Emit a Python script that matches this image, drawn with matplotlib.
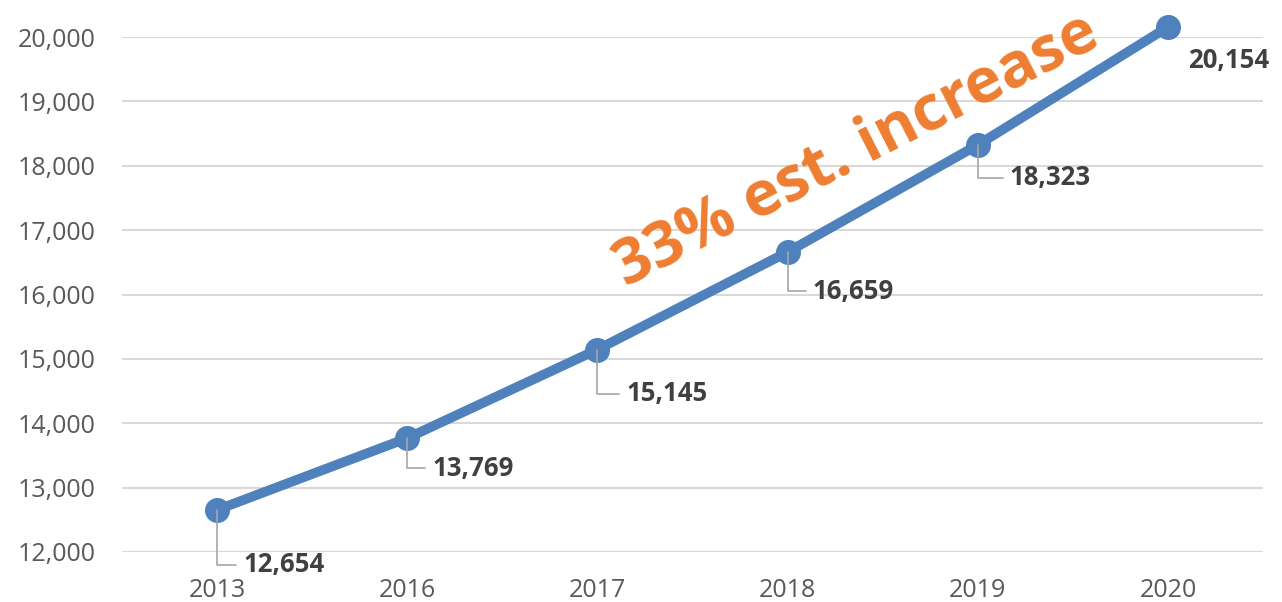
import matplotlib.pyplot as plt
from matplotlib.ticker import FuncFormatter

years = ["2013", "2016", "2017", "2018", "2019", "2020"]
values = [12654, 13769, 15145, 16659, 18323, 20154]
# label offsets in pixels (dx, dy) from each point
label_offsets = [(26, -55), (25, -30), (29, -44), (25, -39), (32, -33), (20, -33)]

plt.rcParams['font.family'] = ['Open Sans', 'DejaVu Sans']

fig = plt.figure(figsize=(12.82, 6.02), dpi=100)
ax = fig.add_axes([122 / 1282, 1 - 552 / 602, (1263 - 122) / 1282, (552 - 37) / 602])

x = list(range(len(years)))
ax.plot(x, values, color="#4F81BD", lw=7, marker="o", markersize=17,
        solid_capstyle="round", clip_on=False, zorder=3)

for i, (v, (dx, dy)) in enumerate(zip(values, label_offsets)):
    # the last label sits too close for a visible leader line
    arrow = None
    if i < len(values) - 1:
        arrow = dict(arrowstyle="-", color="#A6A6A6", lw=1.2,
                     connectionstyle="angle,angleA=0,angleB=90,rad=0",
                     relpos=(0, 0.5), shrinkA=3, shrinkB=0)
    ax.annotate(f"{v:,}", xy=(i, v), xytext=(dx, dy), textcoords="offset pixels",
                ha="left", va="center", fontsize=18.5, fontweight="bold", color="#404040",
                annotation_clip=False, zorder=4, arrowprops=arrow)

ax.text(3.36, 18245, "33% est. increase", rotation=27, rotation_mode="anchor",
        ha="center", va="center", fontsize=45, fontweight="bold", color="#ED7D31", zorder=5)

ax.set_xlim(-0.5, len(years) - 0.5)
ax.set_ylim(12000, 20000)
ax.set_yticks(range(12000, 20001, 1000))
ax.yaxis.set_major_formatter(FuncFormatter(lambda v, p: f"{int(v):,}"))
ax.set_xticks(x)
ax.set_xticklabels(years)
ax.grid(axis="y", color="#D9D9D9", lw=1.5)
ax.set_axisbelow(True)
for s in ax.spines.values():
    s.set_visible(False)
ax.tick_params(length=0, labelsize=18, labelcolor="#595959")
ax.tick_params(axis="x", pad=19)
ax.tick_params(axis="y", pad=19)

fig.savefig("out.png", dpi=100)
